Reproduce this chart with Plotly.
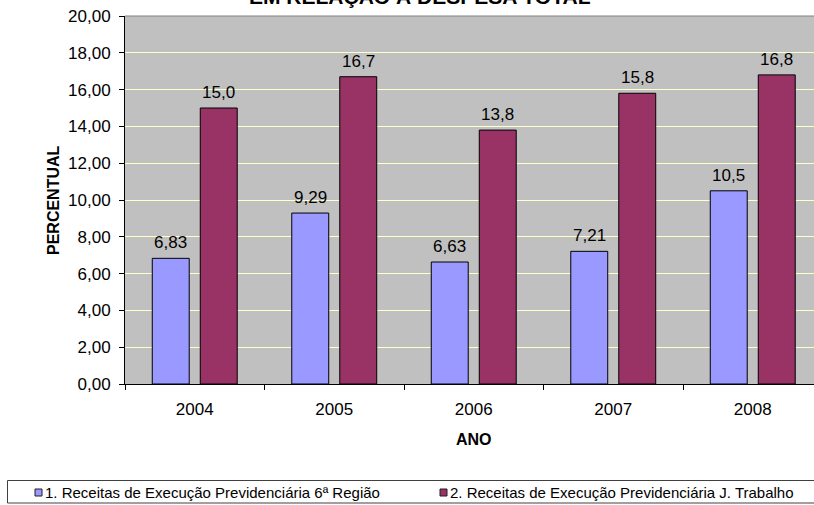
import plotly.graph_objects as go

# Data
anos = ["2004", "2005", "2006", "2007", "2008"]
serie_6a_regiao = [6.83, 9.29, 6.63, 7.21, 10.5]
serie_j_trabalho = [15.0, 16.7, 13.8, 15.8, 16.8]
nomes_series = [
    "1. Receitas de Execução Previdenciária 6ª Região",
    "2. Receitas de Execução Previdenciária J. Trabalho",
]
cores = ["#9999FF", "#993366"]

W, H = 814, 505
L, R, T, B = 125, 0, 16, 121
FONT = "Liberation Sans, Arial, sans-serif"

plot_w = W - L - R
plot_h = H - T - B
cat_px = 139.5  # pixel width of one category


def px_x(p):
    return (p - L) / plot_w


def px_y(p):
    return (H - B - p) / plot_h


fig = go.Figure()
for nome, vals, cor in zip(nomes_series, [serie_6a_regiao, serie_j_trabalho], cores):
    fig.add_trace(go.Bar(
        x=anos, y=vals, name=nome,
        marker=dict(color=cor, line=dict(color="#000000", width=1)),
        showlegend=False,
    ))

annotations = []
# value labels above each bar (x given as category index)
for vals, shift in [(serie_6a_regiao, -24), (serie_j_trabalho, 24)]:
    for i, v in enumerate(vals):
        txt = f"{v:.3g}" if v < 10 else f"{v:.1f}"
        annotations.append(dict(
            x=i, y=v, xref="x", yref="y", text=txt.replace(".", ","),
            showarrow=False, xshift=shift, yshift=4, yanchor="bottom",
            font=dict(family=FONT, size=17, color="#000000"),
        ))

# title (upper part lies outside the canvas)
annotations.append(dict(
    x=px_x(419.5), y=px_y(10), xref="paper", yref="paper",
    text="<b>EM RELAÇÃO À DESPESA TOTAL</b>", showarrow=False,
    xanchor="center", yanchor="bottom",
    font=dict(family=FONT, size=21, color="#000000"),
))
# axis titles
annotations.append(dict(
    x=px_x(L + 2.5 * cat_px), y=px_y(439), xref="paper", yref="paper",
    text="<b>ANO</b>", showarrow=False, xanchor="center", yanchor="middle",
    font=dict(family=FONT, size=16, color="#000000"),
))
annotations.append(dict(
    x=px_x(53), y=px_y(200), xref="paper", yref="paper",
    text="<b>PERCENTUAL</b>", showarrow=False, textangle=-90,
    xanchor="center", yanchor="middle",
    font=dict(family=FONT, size=16, color="#000000"),
))

shapes = [
    # top border of the plot area
    dict(type="line", xref="paper", yref="paper", x0=0, x1=1, y0=1, y1=1,
         line=dict(color="#808080", width=1)),
    # legend frame
    dict(type="rect", xref="paper", yref="paper",
         x0=px_x(7.5), x1=px_x(830), y0=px_y(480.5), y1=px_y(503),
         line=dict(color="#404040", width=1), fillcolor="rgba(0,0,0,0)"),
]

# legend entries
for nome, cor, sx in zip(nomes_series, cores, [35, 440]):
    shapes.append(dict(
        type="rect", xref="paper", yref="paper",
        x0=px_x(sx), x1=px_x(sx + 7), y0=px_y(489), y1=px_y(496),
        fillcolor=cor, line=dict(color="#202020", width=1),
    ))
    annotations.append(dict(
        x=px_x(sx + 8), y=px_y(492.5), xref="paper", yref="paper",
        text=nome, showarrow=False, xanchor="left", yanchor="middle",
        font=dict(family=FONT, size=15, color="#000000"),
    ))

fig.update_layout(
    width=W, height=H,
    margin=dict(l=L, r=R, t=T, b=B, pad=0),
    paper_bgcolor="#FFFFFF", plot_bgcolor="#C0C0C0",
    barmode="group", bargap=0.312, bargroupgap=0.23,
    separators=",.",
    font=dict(family=FONT, size=17, color="#000000"),
    annotations=annotations, shapes=shapes,
)
fig.update_xaxes(
    type="category", range=[-0.5, -0.5 + plot_w / cat_px],
    showline=True, linecolor="#000000", linewidth=1,
    ticks="outside", tickson="boundaries", ticklen=5, tickcolor="#000000",
    ticklabelstandoff=10, showgrid=False,
    tickfont=dict(family=FONT, size=17, color="#000000"),
)
fig.update_yaxes(
    range=[0, 20], dtick=2, tickformat=".2f",
    showline=True, linecolor="#000000", linewidth=1,
    ticks="outside", ticklen=5, tickcolor="#000000", ticklabelstandoff=5,
    showgrid=True, gridcolor="#FFFFCC", gridwidth=1, zeroline=False,
    tickfont=dict(family=FONT, size=17, color="#000000"),
)

fig.write_html("out.html")
